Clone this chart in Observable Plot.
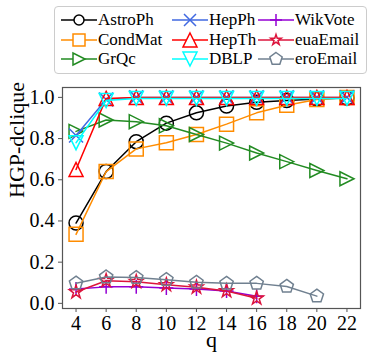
<!DOCTYPE html>
<html>
<head>
<meta charset="utf-8">
<script src="https://cdn.jsdelivr.net/npm/d3@7"></script>
<script src="https://cdn.jsdelivr.net/npm/@observablehq/plot@0.6"></script>
<style>
  html, body { margin: 0; padding: 0; background: #fff; }
  #wrap { position: relative; width: 374px; height: 363px; font-family: "Liberation Serif", "DejaVu Serif", serif; }
  #legend { position: absolute; left: 54px; top: 6px; width: 313px; height: 68px; border: 1px solid #cccccc; border-radius: 4px; background: #fff; box-sizing: border-box; }
  .item { position: absolute; display: flex; align-items: center; font-size: 17px; line-height: 18px; color: #000; white-space: nowrap; }
  .item svg { display: block; margin-right: 1px; }
</style>
</head>
<body>
<div id="wrap"><div id="chart"></div><div id="legend"></div></div>
<script>
// ---- data ----
const qValues = [4, 6, 8, 10, 12, 14, 16, 18, 20, 22];
const astroPh  = [0.39, 0.64, 0.785, 0.875, 0.925, 0.958, 0.976, 0.985, 0.992, 0.997];
const condMat  = [0.335, 0.64, 0.75, 0.78, 0.82, 0.87, 0.925, 0.962, 0.99, 1.0];
const grQc     = [0.835, 0.89, 0.882, 0.862, 0.82, 0.778, 0.73, 0.688, 0.645, 0.605];
const hepPh    = [0.815, 0.99, 1.0, 1.0, 1.0, 1.0, 1.0, 1.0, 1.0, 1.0];
const hepTh    = [0.65, 0.995, 1.0, 1.0, 1.0, 1.0, 1.0, 1.0, 1.0, 1.0];
const dblp     = [0.78, 0.985, 0.995, 0.995, 0.995, 0.995, 0.995, 0.995, 0.995, 0.995];
const wikVote  = [0.07, 0.08, 0.08, 0.075, 0.07, 0.06, 0.035];
const euaEmail = [0.055, 0.11, 0.105, 0.09, 0.078, 0.06, 0.025];
const eroEmail = [0.098, 0.128, 0.125, 0.115, 0.102, 0.097, 0.097, 0.082, 0.035];
const seriesNames = ["AstroPh", "CondMat", "GrQc", "HepPh", "HepTh", "DBLP", "WikVote", "euaEmail", "eroEmail"];
const seriesValues = [astroPh, condMat, grQc, hepPh, hepTh, dblp, wikVote, euaEmail, eroEmail];
const seriesColors = ["#000000", "#ff8c00", "#228b22", "#4169e1", "#ff0000", "#00ffff", "#9400d3", "#dc143c", "#708090"];
const seriesMarkers = ["circle", "square", "triRight", "x", "triUp", "triDown", "plus", "star", "pentagon"];
const xTicks = [4, 6, 8, 10, 12, 14, 16, 18, 20, 22];
const yTicks = [0, 0.2, 0.4, 0.6, 0.8, 1.0];
const xLabel = "q";
const yLabel = "HGP-dclique";

// ---- marker symbols (matplotlib-like) ----
function poly(pts) {
  return { draw(ctx, size) {
    const R = Math.sqrt(size / Math.PI);
    const p = pts(R);
    ctx.moveTo(p[0][0], p[0][1]);
    for (let i = 1; i < p.length; i++) ctx.lineTo(p[i][0], p[i][1]);
    ctx.closePath();
  }};
}
function regular(n, inner) {
  return poly(R => {
    const out = [];
    const k = inner ? 2 * n : n;
    for (let i = 0; i < k; i++) {
      const a = -Math.PI / 2 + i * 2 * Math.PI / k;
      const r = inner && i % 2 ? R * inner : R;
      out.push([r * Math.cos(a), r * Math.sin(a)]);
    }
    return out;
  });
}
const symbols = {
  circle: { draw(ctx, size) { const R = Math.sqrt(size / Math.PI); ctx.moveTo(R, 0); ctx.arc(0, 0, R, 0, 2 * Math.PI); } },
  square: poly(R => [[-R, -R], [R, -R], [R, R], [-R, R]]),
  triUp: poly(R => [[0, -R], [R, R], [-R, R]]),
  triDown: poly(R => [[0, R], [R, -R], [-R, -R]]),
  triRight: poly(R => [[R, 0], [-R, R], [-R, -R]]),
  x: { draw(ctx, size) { const R = Math.sqrt(size / Math.PI); ctx.moveTo(-R, -R); ctx.lineTo(R, R); ctx.moveTo(-R, R); ctx.lineTo(R, -R); } },
  plus: { draw(ctx, size) { const R = Math.sqrt(size / Math.PI); ctx.moveTo(-R, 0); ctx.lineTo(R, 0); ctx.moveTo(0, -R); ctx.lineTo(0, R); } },
  star: regular(5, 0.381966),
  pentagon: regular(5, 0)
};

// ---- build tidy data ----
const rows = [];
seriesNames.forEach((name, i) => {
  seriesValues[i].forEach((v, j) => rows.push({ series: name, idx: i, q: qValues[j], v }));
});

const R = 7;
const marks = [];
seriesNames.forEach((name, i) => {
  const d = rows.filter(r => r.series === name);
  marks.push(Plot.line(d, { x: "q", y: "v", stroke: seriesColors[i], strokeWidth: 1.5 }));
  marks.push(Plot.dot(d, { x: "q", y: "v", stroke: seriesColors[i], fill: "none", strokeWidth: 1.5, r: R, symbol: symbols[seriesMarkers[i]] }));
});

const chart = Plot.plot({
  width: 374,
  height: 363,
  marginLeft: 62,
  marginRight: 14,
  marginTop: 87,
  marginBottom: 55,
  style: { fontFamily: "Liberation Serif, serif", fontSize: "20px", color: "#000", background: "#fff", overflow: "visible" },
  x: { domain: [3.1, 22.9] },
  y: { domain: [-0.025, 1.048] },
  marks: [
    Plot.axisX({ ticks: xTicks, tickSize: 4, tickPadding: 3, fontSize: 20, label: null, stroke: "#555" }),
    Plot.axisY({ ticks: yTicks, tickSize: 4, tickPadding: 4, fontSize: 20, tickFormat: d3.format(".1f"), label: null, stroke: "#555" }),
    ...marks,
    Plot.frame({ stroke: "#555", strokeWidth: 1.2 }),
    Plot.text([yLabel], { frameAnchor: "left", dx: -46, rotate: -90, fontSize: 22, text: d => d }),
    Plot.text([xLabel], { frameAnchor: "bottom", dy: 38, fontSize: 22, text: d => d })
  ]
});
document.getElementById("chart").appendChild(chart);

// ---- legend ----
const legend = document.getElementById("legend");
const colX = [5, 116, 202];
const rowY = [4, 24, 43];
const legendR = { circle: 5, square: 6, triRight: 6, x: 6, triUp: 7, triDown: 7, plus: 6, star: 5.5, pentagon: 6.5 };
seriesNames.forEach((name, i) => {
  const col = Math.floor(i / 3), row = i % 3;
  const div = document.createElement("div");
  div.className = "item";
  div.style.left = colX[col] + "px";
  div.style.top = rowY[row] + "px";
  const svg = d3.create("svg").attr("width", 37).attr("height", 18);
  const lr = legendR[seriesMarkers[i]];
  svg.append("line").attr("x1", 1).attr("x2", 37).attr("y1", 9).attr("y2", 9).attr("stroke", seriesColors[i]).attr("stroke-width", 1.5);
  svg.append("path").attr("transform", "translate(19,9)")
    .attr("d", d3.symbol(symbols[seriesMarkers[i]], Math.PI * lr * lr)())
    .attr("fill", "#fff").attr("stroke", seriesColors[i]).attr("stroke-width", 1.5);
  div.appendChild(svg.node());
  const span = document.createElement("span");
  span.textContent = name;
  div.appendChild(span);
  legend.appendChild(div);
});
</script>
</body>
</html>
